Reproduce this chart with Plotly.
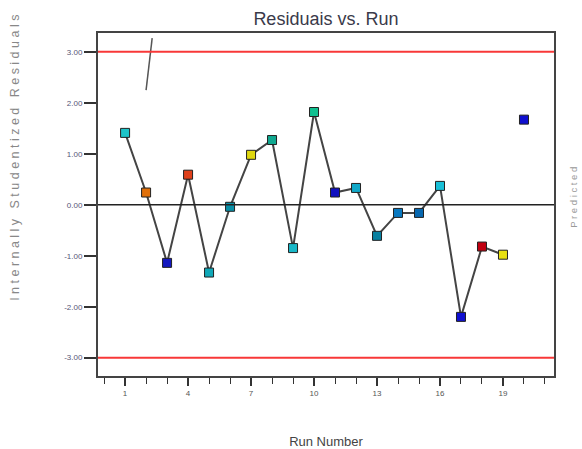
import plotly.graph_objects as go

runs = list(range(1, 20))
residuals = [1.41, 0.24, -1.14, 0.59, -1.33, -0.04, 0.98, 1.27, -0.85, 1.82,
             0.24, 0.33, -0.61, -0.16, -0.16, 0.37, -2.20, -0.82, -0.98]
colors = ["#1cc4c8", "#e0700a", "#1418c0", "#e0401a", "#10a8b8", "#0890a8",
          "#e0d810", "#10a890", "#18b8c8", "#10c090", "#1010c0", "#10a8c8",
          "#0880a0", "#0878c0", "#0868b0", "#18c0d8", "#1010d0", "#c00010",
          "#e8e010"]
extra_run = [20]
extra_resid = [1.67]
extra_color = ["#1010d0"]
artifact_x = [2.29, 2.0]
artifact_y = [3.27, 2.25]
limit = 3.0
x_ticks = [1, 4, 7, 10, 13, 16, 19]
y_ticks = [3, 2, 1, 0, -1, -2, -3]
y_labels = ["3.00", "2.00", "1.00", "0.00", "-1.00", "-2.00", "-3.00"]

fig = go.Figure()
fig.add_hline(y=limit, line=dict(color="#f83838", width=2))
fig.add_hline(y=-limit, line=dict(color="#f83838", width=2))
fig.add_hline(y=0, line=dict(color="#222222", width=1.3))

fig.add_trace(go.Scatter(x=artifact_x, y=artifact_y, mode="lines",
                         line=dict(color="#555555", width=1.5), showlegend=False))
fig.add_trace(go.Scatter(x=runs, y=residuals, mode="lines+markers",
                         line=dict(color="#444444", width=2),
                         marker=dict(symbol="square", size=9, color=colors,
                                     line=dict(color="#222222", width=1)),
                         showlegend=False))
fig.add_trace(go.Scatter(x=extra_run, y=extra_resid, mode="markers",
                         marker=dict(symbol="square", size=9, color=extra_color,
                                     line=dict(color="#222222", width=1)),
                         showlegend=False))

fig.update_layout(
    width=582, height=449,
    margin=dict(l=98, r=28, t=33, b=73),
    paper_bgcolor="white", plot_bgcolor="white",
    font=dict(family="Liberation Sans, Arial, sans-serif", color="#444444"),
    title=dict(text="Residuais vs. Run", x=0.56, xanchor="center", y=0.958, yanchor="middle",
               font=dict(size=18, color="#3a3a4a")),
    xaxis=dict(range=[-0.29, 21.43], tickvals=x_ticks, ticktext=[str(v) for v in x_ticks],
               ticks="outside", ticklen=8, tickwidth=1.5, tickcolor="#333333",
               minor=dict(dtick=1, tick0=0, ticks="outside", ticklen=6, tickwidth=1.2, tickcolor="#333333"),
               tickfont=dict(size=8, color="#555555"),
               showgrid=False, zeroline=False, showline=True, linecolor="#444444", linewidth=2,
               mirror=True, automargin=False,
               title=dict(text="Run Number", font=dict(size=13, color="#444444"), standoff=40)),
    yaxis=dict(range=[-3.36, 3.37], tickvals=y_ticks, ticktext=y_labels,
               ticks="outside", ticklen=12, tickwidth=2, tickcolor="#333333",
               tickfont=dict(size=8, color="#555577"),
               showgrid=False, zeroline=False, showline=True, linecolor="#444444", linewidth=2,
               mirror=True, automargin=False),
)

ytitle = " ".join("Internally Studentized Residuals")
fig.add_annotation(text=ytitle, xref="paper", yref="paper", x=-0.182, y=0.636,
                   textangle=-90, showarrow=False, xanchor="center", yanchor="middle",
                   font=dict(size=12.5, color="#888888"))
fig.add_annotation(text=" ".join("Predicted"), xref="paper", yref="paper", x=1.042, y=0.52,
                   textangle=-90, showarrow=False, xanchor="center", yanchor="middle",
                   font=dict(size=9.5, color="#999999"))

fig.write_html("out.html", config={"displayModeBar": False},
               post_script="document.body.style.margin='0';document.body.style.overflow='hidden';")
